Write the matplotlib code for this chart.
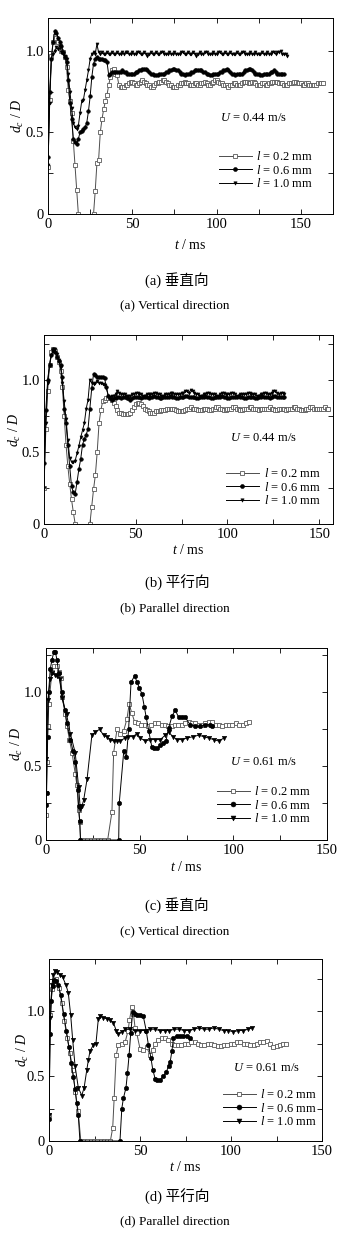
import numpy as np
import matplotlib
matplotlib.use("Agg")
import matplotlib.pyplot as plt
from matplotlib.ticker import MultipleLocator

plt.rcParams['font.family'] = ['Liberation Serif', 'Noto Sans CJK SC', 'DejaVu Sans']
plt.rcParams['mathtext.fontset'] = 'custom'
plt.rcParams['mathtext.rm'] = 'Liberation Serif'
plt.rcParams['mathtext.it'] = 'Liberation Serif:italic'

nan = np.nan
labels = ["$l$ = 0.2 mm", "$l$ = 0.6 mm", "$l$ = 1.0 mm"]

# (a) U = 0.44 m/s, vertical, sampled every 1 ms
a_02 = [0.29, 0.70, 0.97, 1.05, 1.09, 1.08, 1.05, 1.03, 1.00, 0.99,
        0.96, 0.90, 0.76, 0.69, 0.62, 0.45, 0.30, 0.15, 0.00, nan,
        nan, nan, nan, nan, nan, nan, nan, 0.00, 0.14, 0.31,
        0.33, 0.50, 0.58, 0.64, 0.69, 0.73, 0.79, 0.84, 0.88, 0.89,
        0.86, 0.85, 0.79,
        0.78, 0.78, 0.78, 0.79, 0.79, 0.80, 0.81, 0.81, 0.80, 0.79,
        0.79, 0.80, 0.81, 0.82, 0.81, 0.80, 0.79, 0.79, 0.78, 0.78,
        0.79, 0.80, 0.80, 0.81, 0.81, 0.82, 0.82, 0.81, 0.80, 0.79,
        0.79, 0.78, 0.78, 0.78, 0.79, 0.79, 0.80, 0.80, 0.81, 0.80,
        0.80, 0.79, 0.79, 0.79, 0.80, 0.80, 0.79, 0.79, 0.80, 0.80,
        0.81, 0.80, 0.79, 0.79, 0.80, 0.81, 0.82, 0.82, 0.81, 0.80,
        0.80, 0.79, 0.79, 0.79, 0.78, 0.79, 0.79, 0.80, 0.80, 0.79,
        0.79, 0.79, 0.80, 0.81, 0.81, 0.81, 0.80, 0.80, 0.81, 0.81,
        0.80, 0.79, 0.79, 0.79, 0.80, 0.80, 0.79, 0.79, 0.80, 0.80,
        0.81, 0.81, 0.81, 0.81, 0.80, 0.80, 0.80, 0.79, 0.79, 0.79,
        0.80, 0.80, 0.80, 0.81, 0.81, 0.80, 0.80, 0.80, 0.79, 0.79,
        0.80, 0.80, 0.79, 0.79, 0.79, 0.79, 0.79, 0.80, 0.80, 0.80,
        0.80]
a_06 = [0.35, 0.75, 0.95, 1.05, 1.12, 1.11, 1.08, 1.05, 1.03, 0.99,
        0.96, 0.93, 0.82, 0.68, 0.58, 0.46, 0.44, 0.43, 0.46, 0.50,
        0.51, 0.52, 0.53, 0.56, 0.63, 0.72, 0.84, 0.92, 0.95, 0.96,
        0.95, 0.95, 0.95, 0.94, 0.94, 0.93, 0.85, 0.86, 0.87, 0.87,
        0.87, 0.87, 0.87, 0.87, 0.88, 0.87, 0.87, 0.86, 0.86, 0.86,
        0.86, 0.86, 0.87, 0.87, 0.88, 0.88, 0.89, 0.89, 0.89, 0.88,
        0.87, 0.86, 0.86, 0.85, 0.85, 0.85, 0.86, 0.86, 0.86, 0.86,
        0.87, 0.87, 0.88, 0.88, 0.89, 0.89, 0.88, 0.88, 0.87, 0.86,
        0.86, 0.85, 0.86, 0.86, 0.86, 0.87, 0.87, 0.88, 0.88, 0.88,
        0.88, 0.88, 0.87, 0.87, 0.86, 0.86, 0.85, 0.85, 0.86, 0.86,
        0.86, 0.86, 0.87, 0.87, 0.88, 0.88, 0.89, 0.88, 0.87, 0.86,
        0.86, 0.85, 0.86, 0.86, 0.86, 0.86, 0.87, 0.88, 0.88, 0.89,
        0.89, 0.88, 0.87, 0.86, 0.86, 0.86, 0.85, 0.85, 0.86, 0.86,
        0.86, 0.86, 0.87, 0.87, 0.88, 0.87, 0.86, 0.86, 0.86, 0.86,
        0.86]
a_10 = [0.30, 0.68, 0.95, 0.98, 1.00, 1.02, 1.01, 1.03, 0.99, 0.98,
        0.97, 0.95, 0.86, 0.75, 0.65, 0.56, 0.53, 0.52, 0.54, 0.62,
        0.69, 0.70, 0.76, 0.82, 0.88, 0.95, 0.98, 0.99, 0.98, 1.04,
        0.99, 0.98, 0.99, 0.98, 0.98, 0.99, 0.98, 0.98, 0.99, 0.98,
        0.98, 0.99, 0.98, 0.98, 0.99, 0.98, 0.99, 0.99, 0.98, 0.98,
        0.99, 0.98, 0.98, 0.99, 0.99, 0.98, 0.98, 0.99, 0.98, 0.97,
        0.98, 0.99, 0.98, 0.98, 0.99, 0.98, 0.98, 0.99, 0.99, 0.98,
        0.98, 0.98, 0.99, 0.98, 0.98, 0.99, 0.98, 0.98, 0.98, 0.99,
        0.99, 0.98, 0.98, 0.99, 0.98, 0.98, 0.99, 0.98, 0.97, 0.98,
        0.99, 0.98, 0.98, 0.99, 0.99, 0.98, 0.98, 0.98, 0.99, 0.98,
        0.98, 0.99, 0.99, 0.98, 0.98, 0.99, 0.98, 0.98, 0.99, 0.98,
        0.98, 0.98, 0.99, 0.98, 0.98, 0.99, 0.99, 0.98, 0.98, 0.98,
        0.99, 0.98, 0.98, 0.99, 0.98, 0.98, 0.98, 0.99, 0.98, 0.98,
        0.99, 0.98, 0.98, 0.99, 0.99, 0.98, 0.99, 0.99, 1.00, 0.98,
        0.98, 0.98, 0.97]

# (b) U = 0.44 m/s, parallel, sampled every 1 ms
b_02 = [0.25, 0.66, 0.92, 1.10, 1.19, 1.21, 1.20, 1.16, 1.12, 1.06,
        0.95, 0.75, 0.55, 0.40, 0.28, 0.17, 0.08, 0.00, nan, nan,
        nan, nan, nan, nan, nan, 0.00, 0.12, 0.24, 0.34, 0.50,
        0.70, 0.79, 0.85, 0.86, 0.87, 0.87, 0.87, 0.86, 0.84, 0.82,
        0.79, 0.77, 0.77, 0.76, 0.76, 0.76, 0.76, 0.77, 0.79, 0.81,
        0.83, 0.84, 0.84, 0.83, 0.82, 0.80, 0.79, 0.78, 0.77, 0.77,
        0.77, 0.78, 0.78, 0.78, 0.79, 0.79, 0.79, 0.80, 0.80, 0.80,
        0.80, 0.80, 0.79, 0.78, 0.78, 0.78, 0.78, 0.79, 0.80, 0.80,
        0.81, 0.80, 0.80, 0.80, 0.79, 0.79, 0.79, 0.80, 0.80, 0.80,
        0.79, 0.79, 0.80, 0.80, 0.81, 0.81, 0.80, 0.80, 0.79, 0.79,
        0.80, 0.80, 0.80, 0.81, 0.81, 0.80, 0.80, 0.79, 0.79, 0.80,
        0.80, 0.80, 0.81, 0.81, 0.80, 0.80, 0.80, 0.79, 0.80, 0.80,
        0.80, 0.80, 0.80, 0.81, 0.80, 0.80, 0.79, 0.79, 0.80, 0.80,
        0.80, 0.80, 0.79, 0.80, 0.80, 0.80, 0.81, 0.81, 0.80, 0.80,
        0.79, 0.79, 0.79, 0.80, 0.80, 0.81, 0.81, 0.80, 0.80, 0.80,
        0.80, 0.80, 0.80, 0.81, 0.80, 0.80]
b_06 = [0.42, 0.79, 1.00, 1.10, 1.17, 1.21, 1.19, 1.16, 1.13, 1.10,
        1.02, 0.80, 0.70, 0.55, 0.40, 0.26, 0.22, 0.21, 0.29, 0.38,
        0.45, 0.55, 0.59, 0.62, 0.66, 0.80, 0.94, 1.04, 1.03, 1.02,
        1.02, 1.02, 1.02, 1.01, 0.95, 0.89, 0.87, 0.86, 0.87, 0.87,
        0.88, 0.88, 0.87, 0.88, 0.88, 0.87, 0.87, 0.86, 0.87, 0.88,
        0.88, 0.88, 0.88, 0.87, 0.88, 0.88, 0.88, 0.87, 0.88, 0.88,
        0.89, 0.88, 0.88, 0.87, 0.87, 0.88, 0.88, 0.88, 0.88, 0.89,
        0.88, 0.88, 0.87, 0.87, 0.88, 0.88, 0.88, 0.89, 0.89, 0.88,
        0.88, 0.88, 0.88, 0.87, 0.87, 0.88, 0.88, 0.88, 0.89, 0.88,
        0.88, 0.87, 0.87, 0.88, 0.88, 0.88, 0.88, 0.89, 0.88, 0.88,
        0.87, 0.87, 0.88, 0.88, 0.88, 0.88, 0.89, 0.88, 0.88, 0.87,
        0.87, 0.88, 0.88, 0.88, 0.88, 0.87, 0.87, 0.88, 0.88, 0.89,
        0.88, 0.88, 0.88, 0.87, 0.88, 0.89, 0.89, 0.88, 0.88, 0.88,
        0.88, 0.88]
b_10 = [0.25, 0.70, 0.98, 1.10, 1.17, 1.20, 1.21, 1.18, 1.14, 1.09,
        0.98, 0.85, 0.73, 0.58, 0.46, 0.43, 0.43, 0.44, 0.49, 0.54,
        0.60, 0.65, 0.70, 0.80, 0.86, 1.00, 0.98, 0.97, 0.98, 0.99,
        0.98, 0.98, 0.97, 0.96, 0.94, 0.89, 0.88, 0.89, 0.89, 0.90,
        0.92, 0.91, 0.90, 0.90, 0.90, 0.89, 0.89, 0.89, 0.90, 0.90,
        0.91, 0.91, 0.90, 0.90, 0.89, 0.89, 0.90, 0.90, 0.90, 0.90,
        0.91, 0.91, 0.90, 0.90, 0.89, 0.89, 0.90, 0.90, 0.90, 0.91,
        0.91, 0.90, 0.90, 0.90, 0.90, 0.91, 0.91, 0.92, 0.92, 0.91,
        0.93, 0.92, 0.91, 0.90, 0.90, 0.89, 0.89, 0.90, 0.90, 0.91,
        0.91, 0.90, 0.90, 0.90, 0.89, 0.89, 0.90, 0.91, 0.91, 0.90,
        0.90, 0.90, 0.91, 0.91, 0.90, 0.89, 0.89, 0.90, 0.90, 0.90,
        0.90, 0.91, 0.91, 0.90, 0.90, 0.90, 0.89, 0.89, 0.90, 0.90,
        0.91, 0.91, 0.90, 0.90, 0.91, 0.92, 0.92, 0.91, 0.90, 0.91,
        0.91, 0.90]

# (c) U = 0.61 m/s, vertical
c_02_t = [0, 0.5, 1.0, 1.5, 3.2, 4.4, 5.9, 6.8, 8.0, 8.6, 10.3, 11.2, 12.5, 13.9,
          15.6, 16.5, 17.4, 18.0, 18.5, 20.3, 22.1, 23.9, 25.7, 27.5, 29.3, 31.1,
          32.9, 35.2, 36.1, 37.9, 39.7, 41.5, 43.2, 44.4, 45.8, 47.3, 49.1, 50.9,
          52.7, 54.5, 56.3, 58.1, 59.9, 61.7, 63.5, 65.3, 67.1, 68.9, 70.7, 72.5,
          74.3, 76.1, 77.9, 79.7, 81.5, 83.3, 85.1, 86.9, 88.7, 90.5, 92.3, 94.1,
          95.9, 97.7, 99.5, 101.3, 103.1, 104.9, 106.7, 108.5]
c_02 = [0.17, 0.53, 0.77, 0.92, 1.14, 1.18, 1.18, 1.14, 1.10, 0.97, 0.85, 0.77, 0.68, 0.59,
        0.45, 0.37, 0.20, 0.12, 0.00, 0.00, 0.00, 0.00, 0.00, 0.00, 0.00, 0.00,
        0.00, 0.19, 0.59, 0.75, 0.72, 0.74, 0.82, 0.92, 0.86, 0.80, 0.79, 0.78,
        0.78, 0.77, 0.78, 0.79, 0.79, 0.78, 0.78, 0.77, 0.77, 0.78, 0.78, 0.78,
        0.79, 0.80, 0.79, 0.79, 0.78, 0.78, 0.79, 0.80, 0.80, 0.78, 0.78, 0.77,
        0.78, 0.78, 0.78, 0.79, 0.78, 0.78, 0.79, 0.80]
c_06_t = [0, 0.3, 0.9, 1.4, 2.3, 3.2, 4.1, 5.0, 5.9, 6.7, 8.5, 10.0, 11.2, 13.0,
          14.5, 15.6, 16.9, 17.4, 18.0, 18.4, 38.8, 39.1, 41.5, 42.9, 44.1, 45.4,
          47.3, 48.6, 49.8, 51.2, 52.5, 53.5, 54.8, 56.5, 57.4, 59.2, 60.9, 62.7,
          64.0, 65.5, 67.3, 69.0, 70.8, 72.5, 74.3, 77.0, 79.7, 82.4, 85.0, 87.8, 88.7]
c_06 = [0.24, 0.32, 0.70, 1.00, 1.16, 1.22, 1.27, 1.27, 1.22, 1.13, 1.00, 0.88, 0.79, 0.68,
        0.60, 0.53, 0.34, 0.23, 0.13, 0.00, 0.00, 0.25, 0.60, 0.56, 0.75, 1.07,
        1.11, 1.07, 1.03, 0.99, 0.90, 0.83, 0.74, 0.63, 0.62, 0.62, 0.64, 0.66,
        0.67, 0.76, 0.84, 0.88, 0.83, 0.83, 0.83, 0.78, 0.77, 0.77, 0.78, 0.78, 0.775]
c_10_t = [0, 0.2, 1.0, 2.3, 3.2, 4.6, 5.8, 7.3, 8.5, 11.0, 13.0, 15.6, 17.4, 18.3,
          19.2, 20.1, 21.9, 24.5, 26.3, 28.6, 30.7, 32.4, 34.2, 36.1, 38.0, 39.7,
          42.0, 44.0, 46.3, 48.6, 50.4, 53.0, 55.6, 58.3, 61.0, 63.7, 65.5, 67.7,
          69.9, 72.5, 75.1, 78.7, 81.5, 84.2, 86.9, 89.6, 92.2, 94.9]
c_10 = [0.32, 0.55, 0.95, 1.09, 1.13, 1.12, 1.11, 1.09, 0.96, 0.85, 0.72, 0.59, 0.36, 0.21,
        0.23, 0.27, 0.41, 0.71, 0.73, 0.75, 0.71, 0.70, 0.68, 0.67, 0.67, 0.67,
        0.69, 0.70, 0.70, 0.72, 0.69, 0.67, 0.68, 0.68, 0.68, 0.71, 0.73, 0.70,
        0.68, 0.68, 0.69, 0.70, 0.71, 0.70, 0.69, 0.68, 0.67, 0.69]

# (d) U = 0.61 m/s, parallel
d_02_t = [0, 0.5, 1.5, 2.5, 4.0, 5.5, 7.0, 8.5, 10.0, 11.5, 13.0, 14.5, 16.0, 17.5,
          19.3, 21.1, 22.9, 24.7, 26.5, 28.3, 30.1, 31.9, 33.7, 35.0, 35.8, 36.9,
          38.1, 40.0, 41.8, 43.5, 44.2, 45.5, 46.4, 47.3, 48.2, 50.0, 51.9, 53.7,
          55.6, 57.0, 58.3, 60.1, 62.0, 63.8, 65.6, 67.4, 69.2, 71.0, 72.8, 74.6,
          76.4, 78.2, 80.0, 81.8, 83.6, 85.4, 87.2, 89.0, 90.8, 92.6, 94.4, 96.2,
          98.0, 99.8, 101.6, 103.4, 105.2, 107.0, 108.8, 110.6, 112.4, 114.2, 116.0,
          117.8, 119.6, 121.4, 123.2, 125.0, 126.8, 128.6, 130.4]
d_02 = [0.20, 0.97, 1.17, 1.23, 1.25, 1.18, 1.06, 0.92, 0.79, 0.68, 0.55, 0.38, 0.23, 0.00,
        0.00, 0.00, 0.00, 0.00, 0.00, 0.00, 0.00, 0.00, 0.00, 0.10, 0.33, 0.66,
        0.74, 0.75, 0.76, 0.85, 0.93, 1.03, 0.98, 0.87, 0.83, 0.71, 0.70, 0.72,
        0.66, 0.70, 0.75, 0.78, 0.79, 0.79, 0.78, 0.75, 0.74, 0.74, 0.74, 0.75,
        0.75, 0.76, 0.76, 0.75, 0.74, 0.74, 0.75, 0.75, 0.74, 0.73, 0.73, 0.74,
        0.74, 0.75, 0.75, 0.76, 0.76, 0.75, 0.75, 0.74, 0.74, 0.75, 0.76,
        0.76, 0.77, 0.75, 0.72, 0.73, 0.74, 0.75, 0.75]
d_06_t = [0, 0.5, 1.2, 2.0, 2.8, 4.0, 5.1, 6.5, 8.0, 9.5, 11.0, 12.2, 13.4, 14.3,
          15.2, 16.1, 17.0, 39.0, 40.0, 40.9, 42.3, 43.1, 44.0, 44.9, 46.0, 47.3,
          48.6, 50.0, 51.8, 53.4, 54.6, 56.0, 57.0, 58.3, 59.5, 61.0, 62.9, 64.5,
          65.7, 66.6, 67.5, 68.4, 70.3, 72.0, 73.7, 75.8, 77.6]
d_06 = [0.17, 0.82, 1.08, 1.19, 1.24, 1.23, 1.20, 1.12, 0.98, 0.85, 0.72, 0.60, 0.49, 0.40,
        0.29, 0.20, 0.00, 0.00, 0.25, 0.33, 0.41, 0.52, 0.66, 0.83, 0.99, 0.98,
        0.97, 0.97, 0.96, 0.85, 0.74, 0.64, 0.55, 0.48, 0.47, 0.47, 0.50, 0.53,
        0.58, 0.61, 0.69, 0.79, 0.81, 0.81, 0.81, 0.81, 0.79]
d_10_t = [0, 0.8, 1.6, 2.4, 3.3, 4.4, 6.0, 7.5, 9.3, 10.6, 11.9, 13.0, 14.3, 16.1,
          18.0, 19.3, 20.8, 21.6, 22.5, 24.4, 25.8, 27.1, 28.0, 29.9, 31.7, 33.6,
          35.4, 36.9, 38.1, 40.0, 41.9, 44.6, 47.3, 50.0, 52.7, 55.4, 58.1, 60.8,
          63.5, 66.2, 68.9, 71.6, 74.3, 77.0, 79.7, 82.4, 85.1, 87.8, 90.5, 93.2,
          95.9, 98.6, 101.3, 104.0, 106.7, 109.4, 111.5]
d_10 = [0.20, 0.95, 1.20, 1.28, 1.31, 1.30, 1.28, 1.26, 1.20, 1.14, 0.97, 0.78, 0.58, 0.41,
        0.35, 0.41, 0.55, 0.62, 0.69, 0.74, 0.75, 0.94, 0.96, 0.95, 0.94, 0.93,
        0.91, 0.85, 0.82, 0.84, 0.86, 0.86, 0.85, 0.85, 0.85, 0.86, 0.86, 0.85,
        0.85, 0.85, 0.86, 0.86, 0.85, 0.85, 0.86, 0.87, 0.86, 0.86, 0.87, 0.86,
        0.85, 0.85, 0.84, 0.85, 0.85, 0.86, 0.87]

W, H = 351, 1239
fig = plt.figure(figsize=(W / 100, H / 100), dpi=100)


def rect(l, t, r, b):
    return [l / W, 1 - b / H, (r - l) / W, (b - t) / H]


def fx(x):
    return x / W


def fy(y):
    return 1 - y / H


sq = dict(marker='s', mfc='white', mec='0.35', mew=0.6, color='0.3', lw=0.7)
ci = dict(marker='o', mfc='black', mec='black', mew=0.4, color='black', lw=0.7)
tr = dict(marker='v', mfc='black', mec='black', mew=0.4, color='black', lw=0.7)

panels = [
    dict(box=(48, 18, 333, 214), xmax=169, ymax=1.2,
         series=[(np.arange(len(a_02)), a_02), (np.arange(len(a_06)), a_06),
                 (np.arange(len(a_10)), a_10)], ms=(2.6, 2.6, 2.2),
         U="$U$ = 0.44 m/s", leg=(219, 150), Upos=(220, 118), xl=245, yl=18,
         cap=("(a) 垂直向", "(a) Vertical direction", 280, 305)),
    dict(box=(44, 335, 333, 524), xmax=157.5, ymax=1.31,
         series=[(np.arange(len(b_02)), b_02), (np.arange(len(b_06)), b_06),
                 (np.arange(len(b_10)), b_10)], ms=(2.6, 2.6, 2.2),
         U="$U$ = 0.44 m/s", leg=(226, 467), Upos=(230, 438), xl=550, yl=15,
         cap=("(b) 平行向", "(b) Parallel direction", 583, 608)),
    dict(box=(46, 648, 327, 840), xmax=150, ymax=1.3,
         series=[(c_02_t, c_02), (c_06_t, c_06), (c_10_t, c_10)], ms=(3.2, 3.2, 3.2),
         U="$U$ = 0.61 m/s", leg=(217, 785), Upos=(230, 762), xl=867, yl=17,
         cap=("(c) 垂直向", "(c) Vertical direction", 905, 931)),
    dict(box=(49, 959, 322, 1141), xmax=150, ymax=1.4,
         series=[(d_02_t, d_02), (d_06_t, d_06), (d_10_t, d_10)], ms=(3.2, 3.2, 3.2),
         U="$U$ = 0.61 m/s", leg=(223, 1088), Upos=(233, 1068), xl=1167, yl=23,
         cap=("(d) 平行向", "(d) Parallel direction", 1197, 1221)),
]

for p in panels:
    l, t, r, b = p['box']
    ax = fig.add_axes(rect(l, t, r, b))
    styles = [sq, ci, tr]
    for (x, y), st, lab, m in zip(p['series'], styles, labels, p['ms']):
        ax.plot(x, y, ms=m, label=lab, **st)
    ax.set_xlim(0, p['xmax'])
    ax.set_ylim(0, p['ymax'])
    ax.xaxis.set_major_locator(MultipleLocator(50))
    ax.xaxis.set_minor_locator(MultipleLocator(25))
    ax.yaxis.set_minor_locator(MultipleLocator(0.25))
    ax.set_yticks([0, 0.5, 1.0])
    ax.set_yticklabels(['0', '0.5', '1.0'])
    ax.tick_params(which='both', direction='in', top=True, right=True,
                   labelsize=10.5, width=0.6, pad=3, length=3.5)
    for s in ax.spines.values():
        s.set_linewidth(0.7)
    ax.legend(loc='upper left', bbox_to_anchor=(fx(p['leg'][0]), fy(p['leg'][1])),
              bbox_transform=fig.transFigure, frameon=False, fontsize=9,
              handlelength=2.6, handletextpad=0.4, labelspacing=0.05,
              borderpad=0, borderaxespad=0, numpoints=1, markerscale=1.1)
    fig.text(fx(p['Upos'][0]), fy(p['Upos'][1]), p['U'], fontsize=9, va='center', ha='left')
    fig.text(fx((l + r) / 2), fy(p['xl']), "$t$ / ms", fontsize=10, ha='center', va='center')
    fig.text(fx(p['yl']), fy((t + b) / 2), "$d_c$ / $D$", fontsize=10, rotation=90,
             ha='center', va='center')
    zh, en, yz, ye = p['cap']
    fig.text(fx(177), fy(yz), zh, fontsize=10.5, ha='center', va='center')
    fig.text(fx(175), fy(ye), en, fontsize=9.5, ha='center', va='center')

fig.savefig("out.png", dpi=100)
